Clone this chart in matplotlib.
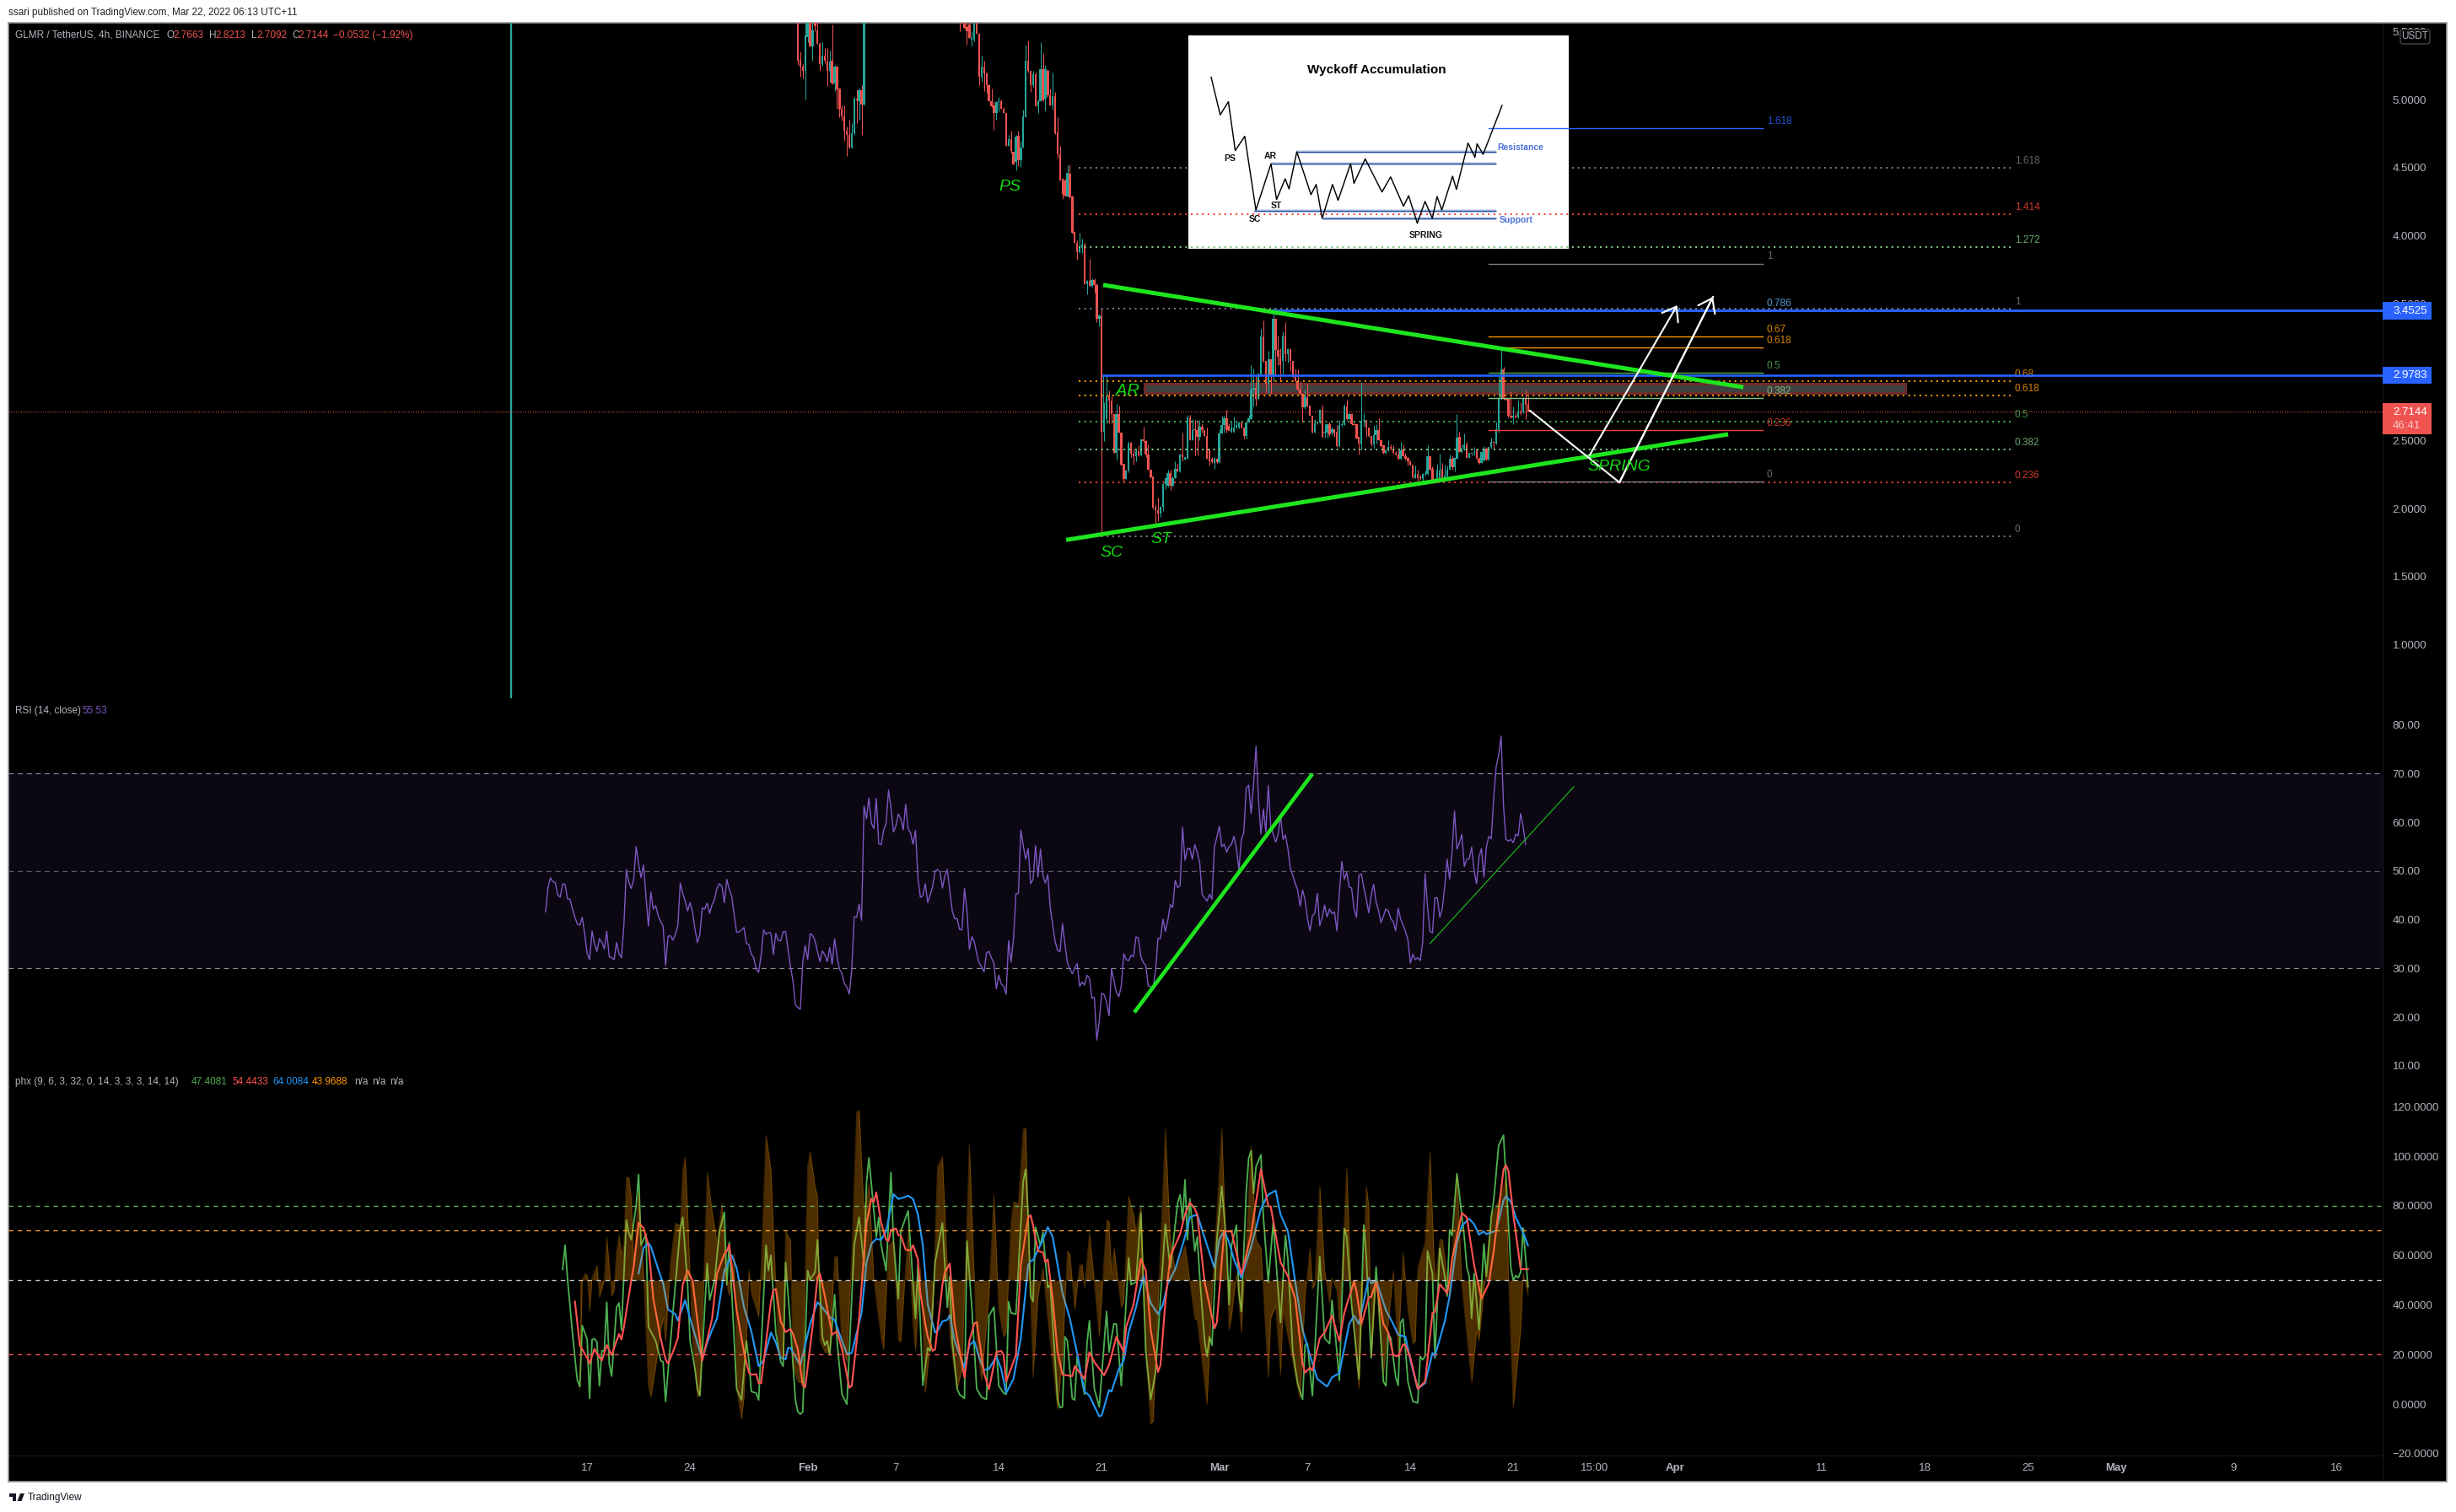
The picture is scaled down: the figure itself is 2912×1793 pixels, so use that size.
"""GLMR/USDT 4h TradingView snapshot: candles + fib levels, RSI and phx panes."""

import matplotlib

matplotlib.use("Agg")
import matplotlib.pyplot as plt
import numpy as np
from matplotlib.patches import FancyBboxPatch, Polygon, Rectangle

W, H = 2912, 1793
plt.rcParams["font.family"] = ["Liberation Sans", "DejaVu Sans"]

BG = "#000000"
UP = "#26a69a"
DOWN = "#ef5350"
LABEL = "#b2b5be"
LIME = "#1ee61e"
BLUE = "#2962ff"
ORANGE = "#ff9800"
GREY = "#787b86"
FIB_RED = "#f44336"
FIB_GREEN = "#4caf50"
FIB_LIGHT = "#81c784"
AXIS_SIZE = 9.5
TEXT_SIZE = 8.5

# candles still on screen before the gap above the pane (oldest first)
open_a = [5.8, 5.29, 5.24, 5.21, 5.46, 5.7, 5.39, 5.58, 5.505, 5.41, 5.26, 5.32, 5.28, 5.21, 5.285, 5.116, 5.24, 5.08, 4.93, 4.877, 4.774, 4.739, 4.646, 4.753, 5.007, 4.985, 5.069, 4.96]
high_a = [5.9, 5.35, 5.26, 5.75, 5.85, 5.8, 5.7, 5.7, 5.6, 5.42, 5.42, 5.38, 5.38, 5.36, 5.55, 5.254, 5.24, 5.08, 4.955, 4.955, 4.8, 4.85, 4.83, 5.017, 5.075, 5.085, 5.105, 6.1]
low_a = [5.254, 5.17, 5.155, 5.0, 5.42, 5.39, 5.285, 5.5, 5.41, 5.21, 5.25, 5.264, 5.1, 5.13, 5.11, 5.06, 4.935, 4.87, 4.846, 4.7, 4.585, 4.64, 4.64, 4.74, 4.83, 4.85, 4.74, 4.955]
close_a = [5.285, 5.24, 5.21, 5.47, 5.7, 5.39, 5.51, 5.54, 5.41, 5.26, 5.32, 5.285, 5.21, 5.28, 5.116, 5.24, 5.075, 4.935, 4.877, 4.774, 4.739, 4.646, 4.753, 5.007, 4.992, 5.069, 4.96, 6.0]

# main run of candles, ending on the live bar
open_b = [
    5.8, 5.8, 5.68, 5.53, 5.55, 5.44, 5.44, 5.62, 5.48, 5.17, 5.244, 5.19, 5.106, 4.986, 4.955, 4.904, 4.98, 4.99, 4.935, 4.9,
    4.657, 4.708, 4.615, 4.543, 4.733, 4.553, 4.646, 4.873, 5.285, 5.209, 5.106, 5.186, 4.95, 4.986, 5.223, 5.007, 5.209, 5.03, 4.959, 5.023,
    4.76, 4.6, 4.42, 4.409, 4.292, 4.457, 4.286, 4.028, 3.95, 3.878, 3.911, 3.936, 3.647, 3.672, 3.633, 3.678, 3.637,
    3.394, 3.41, 2.566, 2.659, 2.823, 2.79, 2.694, 2.411, 2.694, 2.556, 2.329, 2.216, 2.278, 2.483, 2.401, 2.387, 2.422, 2.391, 2.508, 2.494, 2.395, 2.284, 2.236,
    2.004, 1.989, 1.964, 2.01, 2.181, 2.168, 2.263, 2.168, 2.226, 2.292, 2.271, 2.395, 2.36, 2.364, 2.669, 2.504, 2.58, 2.576, 2.525, 2.601,
    2.576, 2.531, 2.436, 2.366, 2.335, 2.366, 2.339, 2.551, 2.611, 2.663, 2.607, 2.566, 2.566, 2.597, 2.597, 2.634, 2.597, 2.535, 2.634, 2.659,
    2.875, 2.885, 2.803, 2.984, 3.26, 3.081, 2.916, 3.095, 2.972, 3.39, 3.163, 3.116, 3.081, 3.26, 3.132, 3.17, 3.081, 2.964, 2.937, 2.875,
    2.844, 2.741, 2.813, 2.757, 2.683, 2.56, 2.628, 2.634, 2.725, 2.556, 2.556, 2.617,
    2.556, 2.58, 2.562, 2.459, 2.613, 2.613, 2.747, 2.659, 2.694, 2.622, 2.622, 2.525, 2.473, 2.644, 2.648, 2.593, 2.531, 2.473, 2.539, 2.576, 2.504, 2.463,
    2.411, 2.426, 2.453, 2.442, 2.411, 2.397, 2.366, 2.432, 2.387, 2.374, 2.35, 2.323, 2.226, 2.253, 2.236, 2.216, 2.25, 2.253, 2.385, 2.292, 2.216,
    2.205, 2.216, 2.292, 2.226, 2.236, 2.288, 2.364, 2.304, 2.366, 2.525, 2.418, 2.432, 2.469, 2.374, 2.401, 2.407, 2.436, 2.366, 2.335, 2.354,
    2.44, 2.36, 2.449, 2.49, 2.479, 2.576, 2.807, 3.019, 2.807, 2.803, 2.679, 2.669, 2.683, 2.669, 2.71, 2.704, 2.813, 2.7663,
]
high_b = [
    5.9, 5.85, 5.7, 5.7, 5.6, 5.5, 5.7, 5.7, 5.49, 5.32, 5.285, 5.196, 5.11, 5.08, 4.986, 4.986, 5.017, 5.0, 4.945, 4.904,
    4.739, 4.77, 4.615, 4.739, 4.77, 4.698, 4.925, 5.40, 5.433, 5.209, 5.213, 5.196, 5.0, 5.419, 5.34, 5.254, 5.223, 5.079, 5.196, 5.058,
    4.869, 4.663, 4.424, 4.42, 4.519, 4.527, 4.296, 4.038, 3.966, 4.022, 3.977, 3.946, 3.678, 3.833, 3.688, 3.688, 3.65,
    3.42, 3.466, 2.782, 2.978, 2.865, 2.823, 2.694, 2.766, 2.757, 2.556, 2.329, 2.288, 2.498, 2.49, 2.432, 2.442, 2.463, 2.508, 2.601, 2.504, 2.473, 2.288, 2.236,
    2.03, 2.082, 2.02, 2.185, 2.226, 2.284, 2.288, 2.236, 2.35, 2.329, 2.401, 2.556, 2.38, 2.69, 2.69, 2.659, 2.648, 2.648, 2.648, 2.628,
    2.576, 2.597, 2.436, 2.38, 2.38, 2.37, 2.58, 2.679, 2.683, 2.725, 2.628, 2.638, 2.673, 2.638, 2.638, 2.638, 2.597, 2.638, 2.69, 3.05,
    3.029, 2.978, 2.992, 3.318, 3.38, 3.081, 3.157, 3.095, 3.472, 3.39, 3.266, 3.174, 3.297, 3.369, 3.174, 3.17, 3.081, 3.029, 3.019, 2.937,
    2.844, 2.875, 2.916, 2.757, 2.683, 2.659, 2.638, 2.725, 2.762, 2.617, 2.628, 2.638,
    2.601, 2.585, 2.613, 2.648, 2.63, 2.766, 2.799, 2.706, 2.70, 2.638, 2.622, 2.525, 2.93, 2.70, 2.648, 2.593, 2.531, 2.613, 2.617, 2.663, 2.504, 2.463,
    2.426, 2.504, 2.473, 2.463, 2.42, 2.43, 2.49, 2.469, 2.41, 2.38, 2.355, 2.323, 2.319, 2.288, 2.25, 2.26, 2.28, 2.467, 2.385, 2.308, 2.226,
    2.329, 2.401, 2.333, 2.323, 2.313, 2.395, 2.391, 2.37, 2.694, 2.562, 2.473, 2.551, 2.49, 2.38, 2.41, 2.453, 2.44, 2.38, 2.415, 2.459,
    2.45, 2.453, 2.519, 2.495, 2.638, 2.972, 3.188, 3.04, 2.82, 2.81, 2.86, 2.747, 2.70, 2.797, 2.782, 2.819, 2.871, 2.8213,
]
low_b = [
    5.5, 5.6, 5.52, 5.40, 5.45, 5.39, 5.43, 5.48, 5.106, 5.13, 5.06, 5.05, 4.99, 4.945, 4.78, 4.85, 4.914, 4.935, 4.9, 4.657,
    4.657, 4.605, 4.527, 4.48, 4.51, 4.508, 4.646, 4.873, 5.2, 5.058, 5.09, 4.95, 4.9, 4.986, 4.986, 4.918, 5.017, 4.959, 4.924, 4.749,
    4.574, 4.409, 4.27, 4.286, 4.286, 4.276, 4.018, 3.946, 3.828, 3.874, 3.874, 3.643, 3.569, 3.627, 3.627, 3.585, 3.37,
    3.338, 1.80, 2.494, 2.628, 2.628, 2.628, 2.411, 2.36, 2.556, 2.319, 2.195, 2.216, 2.267, 2.38, 2.323, 2.35, 2.387, 2.391, 2.49, 2.38, 2.284, 2.226, 2.0,
    1.876, 1.907, 1.938, 1.979, 2.144, 2.16, 2.139, 2.164, 2.226, 2.271, 2.267, 2.35, 2.36, 2.364, 2.5, 2.504, 2.391, 2.391, 2.504, 2.56,
    2.53, 2.366, 2.319, 2.335, 2.294, 2.33, 2.335, 2.551, 2.556, 2.556, 2.572, 2.56, 2.56, 2.59, 2.59, 2.59, 2.514, 2.514, 2.63, 2.655,
    2.751, 2.755, 2.8, 2.98, 3.07, 2.854, 2.844, 2.844, 2.937, 2.978, 3.05, 2.937, 2.978, 3.081, 3.071, 3.009, 2.957, 2.926, 2.865, 2.834,
    2.638, 2.73, 2.751, 2.679, 2.556, 2.556, 2.62, 2.625, 2.519, 2.521, 2.521, 2.53,
    2.54, 2.525, 2.453, 2.453, 2.60, 2.61, 2.65, 2.655, 2.615, 2.61, 2.514, 2.397, 2.432, 2.60, 2.525, 2.525, 2.46, 2.438, 2.477, 2.504, 2.45, 2.405,
    2.405, 2.42, 2.43, 2.40, 2.39, 2.36, 2.36, 2.387, 2.36, 2.319, 2.319, 2.226, 2.222, 2.195, 2.21, 2.201, 2.24, 2.25, 2.288, 2.189, 2.185,
    2.2, 2.21, 2.22, 2.21, 2.23, 2.285, 2.284, 2.27, 2.366, 2.418, 2.41, 2.428, 2.374, 2.37, 2.39, 2.39, 2.366, 2.33, 2.332, 2.35,
    2.355, 2.355, 2.44, 2.44, 2.47, 2.556, 2.80, 2.799, 2.79, 2.669, 2.66, 2.622, 2.66, 2.665, 2.69, 2.70, 2.659, 2.7092,
]
close_b = [
    5.7, 5.68, 5.526, 5.50, 5.45, 5.45, 5.62, 5.48, 5.17, 5.244, 5.19, 5.106, 4.986, 4.95, 4.904, 4.98, 4.99, 4.935, 4.9, 4.657,
    4.708, 4.62, 4.527, 4.729, 4.553, 4.646, 4.877, 5.285, 5.209, 5.106, 5.186, 4.95, 4.986, 5.223, 4.996, 5.223, 5.03, 4.959, 5.023, 4.755,
    4.6, 4.409, 4.31, 4.296, 4.461, 4.282, 4.024, 3.95, 3.878, 3.915, 3.936, 3.647, 3.672, 3.633, 3.678, 3.637, 3.39,
    3.415, 2.566, 2.659, 2.823, 2.79, 2.694, 2.411, 2.694, 2.556, 2.323, 2.216, 2.278, 2.477, 2.401, 2.387, 2.422, 2.391, 2.508, 2.494, 2.395, 2.284, 2.23, 2.004,
    1.989, 1.964, 2.01, 2.181, 2.226, 2.263, 2.168, 2.226, 2.292, 2.271, 2.395, 2.38, 2.38, 2.669, 2.504, 2.576, 2.575, 2.525, 2.601, 2.576,
    2.531, 2.366, 2.35, 2.339, 2.364, 2.339, 2.551, 2.611, 2.663, 2.576, 2.572, 2.593, 2.597, 2.613, 2.634, 2.597, 2.535, 2.634, 2.663, 2.875,
    2.885, 2.803, 2.988, 3.26, 3.081, 2.916, 3.095, 2.972, 3.39, 3.163, 3.116, 3.054, 3.266, 3.132, 3.17, 3.081, 2.964, 2.937, 2.875, 2.844,
    2.741, 2.823, 2.757, 2.683, 2.56, 2.628, 2.638, 2.725, 2.525, 2.562, 2.617, 2.545,
    2.58, 2.551, 2.459, 2.613, 2.62, 2.747, 2.659, 2.694, 2.622, 2.613, 2.514, 2.479, 2.644, 2.65, 2.593, 2.531, 2.473, 2.539, 2.576, 2.504, 2.459, 2.411,
    2.426, 2.453, 2.442, 2.407, 2.397, 2.366, 2.428, 2.387, 2.366, 2.35, 2.323, 2.23, 2.253, 2.226, 2.222, 2.253, 2.255, 2.385, 2.288, 2.205, 2.195,
    2.284, 2.278, 2.226, 2.243, 2.288, 2.364, 2.304, 2.37, 2.521, 2.418, 2.432, 2.469, 2.374, 2.407, 2.411, 2.415, 2.366, 2.335, 2.415, 2.44,
    2.36, 2.453, 2.49, 2.48, 2.58, 2.807, 3.019, 2.807, 2.80, 2.679, 2.669, 2.683, 2.669, 2.71, 2.70, 2.813, 2.762, 2.7144,
]

# RSI(14), one value per bar from bar 0
rsi = [
    41.6, 46.5, 48.6, 47.8, 47.6, 45.1, 44.6, 47.4, 47.2, 44.3, 44.2, 42.2, 40.5, 39.1, 38.9, 40.5, 37, 33.1, 31.8, 37.7,
    35, 33.5, 36.1, 35.4, 34, 37.6, 32.4, 32.2, 31.8, 35.3, 33, 32.2, 39, 50.3, 47.7, 46.4, 48.3, 55, 51.4, 48.6,
    51.2, 44.8, 38.7, 45.7, 42.2, 42.9, 40.8, 39.6, 38.7, 30.6, 36.6, 36.7, 35.8, 37, 38.7, 47.5, 45.4, 43.9, 41.8, 43.5,
    41.6, 38.1, 35.3, 37, 42.4, 42.2, 43.4, 41.3, 43.1, 44.2, 46.5, 47.4, 46.8, 43.5, 48.3, 46.2, 44.8, 41, 37.4, 37.5,
    37.9, 38.4, 35.1, 34.9, 32.9, 32.2, 29.8, 29.2, 32.7, 37.9, 37, 37.4, 37.2, 32.9, 37.2, 35.7, 35.7, 37.5, 37.6, 33.8,
    30.3, 27.5, 22.5, 22, 21.6, 31.2, 34.7, 31.8, 37.1, 36.8, 35.7, 33.5, 31.4, 33.6, 32.8, 31.4, 34.3, 30.9, 36.1, 32.4,
    29.8, 28.9, 26.9, 26.2, 24.7, 29.8, 40.6, 40.5, 43.2, 39.9, 63.3, 60.7, 65, 59.8, 58.7, 64.9, 55.6, 55.4, 58.4, 59.7,
    66.6, 63, 58, 59.2, 61.7, 60.7, 58.4, 63.7, 58.7, 57.8, 55.5, 58.3, 48.6, 44.6, 44.9, 47.4, 43.5, 45.1, 46.8, 50,
    50.3, 49.8, 46.5, 49, 50.3, 46, 41.8, 40.2, 40.2, 38, 37.9, 46.4, 41.9, 33.9, 36.5, 35.5, 33, 31.1, 30.3, 29.3,
    33.2, 33.5, 32.2, 31.1, 25.8, 28.6, 26.8, 26.3, 24.7, 35.7, 31.3, 36.1, 45.3, 45.4, 58.4, 55.2, 52.4, 54.6, 47.4, 48.3,
    55.2, 48.8, 54.5, 49.1, 47.5, 49.3, 42.5, 39, 35.5, 33.7, 33.4, 39.2, 35, 31.2, 29.9, 28.9, 30.1, 31, 26.3, 27.2,
    26.6, 28.6, 28, 23.9, 24.1, 15.3, 19.1, 24.9, 24.6, 23.1, 20.3, 29.9, 27.5, 25.1, 24.2, 26.4, 33, 31.8, 31.6, 32.7,
    32.4, 36.5, 36.2, 32.4, 31.2, 30.6, 26.4, 26.3, 25.8, 29.8, 36.2, 36.1, 40.1, 37.6, 39.9, 43.1, 42.5, 48.1, 46.6, 47,
    59, 52.2, 54.6, 54.6, 52.4, 55.4, 53.8, 51.7, 45.1, 44.5, 43.8, 45.2, 44.2, 54.9, 56.9, 59.2, 55, 55.5, 53.9, 55,
    55.5, 57.1, 54.6, 50.3, 56.4, 57.9, 67, 67.6, 61.8, 67.9, 75.6, 64.5, 57.6, 62.7, 58, 67.5, 59.2, 57.6, 55.9, 57.5,
    61.3, 56.5, 57.4, 54.6, 50.5, 49.1, 47.4, 46.1, 42.8, 46.1, 44.1, 40.2, 37.7, 40.8, 41.3, 45.4, 38.8, 40.5, 43, 40.6,
    42.2, 41.2, 41.6, 37.7, 45.4, 52, 48.3, 49.7, 46.7, 46.5, 42.2, 40.5, 49.1, 49.4, 46.5, 44.2, 41.4, 45.1, 47.3, 43.6,
    41.9, 39.4, 40.8, 42.2, 41.8, 40.2, 39.6, 37.7, 42.4, 40.2, 38.9, 37.6, 35.8, 31.1, 32.9, 31.8, 32.2, 31.6, 35.3, 49.5,
    42.5, 37.6, 37.3, 44.5, 44.5, 40.5, 42.2, 46.8, 52.4, 48.3, 54, 62.3, 54.5, 55.8, 57.5, 50.9, 52.4, 52.5, 54.9, 50,
    47.4, 52.9, 54.6, 48.7, 54.9, 57.1, 56.6, 65, 71.4, 73.7, 77.7, 63.3, 56.5, 56.1, 56.5, 55.8, 57.6, 57.2, 61.8, 59.2, 55.5,
]

# phx oscillator: turning points of each plot, (bar, value) in two lists each
fast_bar = [7, 8, 9, 11, 12, 13, 14, 15, 17, 18, 19, 20, 21, 22, 23, 24, 25, 26, 27, 29, 30, 31, 33, 34, 35, 37, 38, 39, 41, 42, 45, 47, 48, 49, 52, 55, 56, 58, 59, 61, 62, 63, 64, 66, 67, 69, 71, 73, 74, 75, 78, 80, 82, 83, 84, 86, 87, 90, 91, 92, 94, 96, 97, 98, 100, 102, 103, 104, 105, 107, 108, 110, 111, 113, 114, 115, 116, 118, 119, 121, 123, 126, 128, 130, 131, 132, 135, 136, 137, 139, 141, 142, 144, 145, 148, 151, 152, 154, 156, 157, 159, 162, 164, 165, 166, 168, 169, 171, 172, 174, 176, 178, 180, 181, 183, 185, 187, 188, 189, 190, 192, 195, 196, 197,
            198, 199, 200, 202, 203, 205, 206, 209, 210, 211, 212, 213, 215, 216, 217, 220, 221, 222, 224, 226, 229, 230, 232, 233, 235, 238, 239, 241, 243, 245, 247, 249, 253, 255, 256, 258, 259, 260, 261, 262, 263, 265, 266, 267, 269, 270, 271, 272, 274, 276, 278, 279, 280, 282, 283, 284, 286, 287, 288, 289, 290, 292, 293, 295, 297, 300, 302, 303, 305, 307, 309, 310, 311, 313, 316, 318, 320, 321, 323, 324, 326, 327, 329, 332, 334, 335, 337, 339, 340, 342, 343, 344, 345, 347, 348, 349, 350, 352, 354, 356, 357, 358, 359, 360, 362, 363, 365, 367, 368, 369, 370, 372, 375, 376, 377, 378, 379, 381, 383, 384, 386, 387, 389, 391, 392, 394, 395, 396, 397, 398, 399, 401]
fast_val = [54.4, 64.1, 50.4, 28.9, 18.7, 9.6, 7.1, 31.7, 26.1, 2.3, 26.1, 26.4, 25, 7.4, 21.5, 21.5, 41.1, 16.4, 11.3, 39.1, 40.8, 30, 74.3, 69.2, 66.3, 79.9, 92.6, 64.1, 68.6, 31.2, 25.5, 17.6, 17, 1.1, 36.8, 70.9, 75.4, 48.2, 25.5, 14.2, 6.2, 3.4, 21, 56.7, 42, 49.9, 69.7, 77.4, 48.2, 65.2, 6.2, 1.7, 25.5, 17.6, 5.1, 4.5, 1.7, 64.1, 53.9, 60.1, 28.9, 17, 15.3, 57.2, 31.2, 1.7, -3.1, -4, -3.1, 53.9, 50.2, 53.3, 66.3, 27.2, 23.8, 25.5, 19.8, 44.2, 25.5, 4, 0, 64.1, 75.4, 56.1, 89, 99.4, 67.4, 75.4, 64.1, 53.9, 93.5, 66.3, 42.5, 69.7, 78, 34.6, 56.1, 7.6, 22.7, 21.5, 57.2, 73.1, 39.1, 51.6, 25.5, 6.2, 3.9, 2.3, 65.8, 39.1, 6.2, 2.8, 1.9, 35.7, 39.1, 7.4, 4.5, 4, 41.4, 36.8, 36.3, 90.1, 94.7, 75.4,
            43.6, 41.4, 71.4, 64.1, 69.2, 47, 48.2, 1.7, -1.4, -1.1, 27.2, 25.5, 2.3, 1.7, 19.3, 4, 24.4, 33.7, 6.2, -1.1, 37.4, 21, 32.5, 32.3, 7.4, 59, 48.2, 49.3, 77.1, 21, 1.9, 13, 72.6, 55, 63.5, 81.1, 84.5, 74.2, 90.5, 66.3, 82.8, 61.8, 67.5, 51.6, 25.5, 19.3, 27.2, 23.8, 66.3, 87.9, 64.1, 40.2, 64.1, 72.2, 44.8, 37.4, 85.6, 99.2, 102.3, 85, 95.8, 100.6, 75.4, 49.3, 73.1, 32.9, 68, 58.4, 21, 8.5, 1.9, 23.8, 24.4, 3.4, 59.5, 26.6, 24.4, 41.9, 21, 9.6, 70.9, 67.5, 40.2, 10.2, 72.2, 59.5, 18.7, 55.3, 41.4, 9.1, 7.4, 28.4, 26.6, 10.8, 7.6, 32.9, 34.4, 9.1, 1.1, 0.5, 19.3, 17.9, 19.3, 61.8, 52.7, 18.7, 62.9, 51.6, 43.6, 70.3, 68, 93, 67.4, 55.5, 51.6, 34.6, 52.7, 30, 64.6, 51.6, 75.4, 82.2, 104.3, 108.5, 91.3, 55, 49.9, 51.9, 51, 53.3, 71.1, 47.41]
mid_bar = [12, 14, 16, 17, 18, 20, 21, 23, 25, 27, 30, 31, 32, 35, 36, 38, 40, 42, 44, 47, 49, 50, 52, 54, 56, 58, 60, 63, 64, 68, 70, 73, 74, 75, 78, 81, 83, 84, 86, 87, 88, 92, 93, 94, 96, 98, 100, 101, 103, 105, 106, 109, 111, 112, 114, 117, 119, 121, 123, 124, 125, 128, 131, 133, 134, 135, 137, 139, 140, 141, 143, 144, 145, 147, 149, 150, 152, 153, 155, 156, 158, 159, 162, 163, 165, 167, 171, 173, 175, 176, 179, 181, 184, 186, 187, 188, 192, 194, 197,
           198, 199, 201, 203, 204, 205, 207, 209, 211, 215, 216, 220, 222, 224, 228, 230, 233, 236, 237, 240, 243, 245, 247, 250, 251, 253, 255, 257, 259, 261, 263, 265, 266, 269, 273, 274, 277, 280, 284, 288, 292, 295, 296, 300, 303, 306, 309, 310, 312, 313, 316, 318, 321, 324, 326, 330, 331, 333, 336, 337, 339, 342, 344, 346, 348, 350, 351, 353, 356, 359, 362, 363, 365, 368, 369, 370, 374, 376, 379, 382, 385, 387, 391, 392, 393, 395, 398, 401]
mid_val = [41.4, 23.8, 20.4, 18.7, 16.4, 22.3, 20.4, 17.6, 23.8, 19.8, 28.3, 26.1, 31.2, 49.9, 55.5, 73.1, 71.1, 64.1, 42.5, 26.6, 18.1, 16.4, 21, 26.6, 48.2, 53.9, 49.9, 25.5, 17.6, 34.6, 52.7, 60.6, 61.8, 64.3, 38, 21, 12.8, 11.9, 12.1, 8.5, 8.5, 41.4, 45.9, 46.5, 33.4, 29.1, 30.3, 28.3, 22.1, 7.6, 6.8, 31.2, 51, 52.7, 43.6, 28, 29.5, 22.1, 11.9, 6.6, 7.4, 34.6, 73.1, 82.8, 81.6, 85.4, 73.1, 66.3, 65.8, 70.3, 70.9, 68.2, 68, 62.3, 62, 64.1, 58.4, 44.8, 32.3, 27.2, 21.5, 22.1, 48.2, 53.3, 56.7, 32.3, 10.8, 25.5, 32.5, 33.1, 12.5, 6, 21, 21.5, 19.8, 9.1, 19.8, 56.1, 75.4,
           76.2, 72, 61.8, 61.2, 57.3, 58.4, 42.5, 21, 11.9, 11.3, 15.3, 10.2, 21, 17, 11.7, 15.9, 27.2, 21, 31.2, 40.2, 58.6, 53.9, 30, 13, 15.9, 41.4, 59.5, 64.1, 68.6, 76.5, 81.3, 78.8, 76.5, 49.3, 30.6, 32.9, 69.7, 69.7, 52.2, 68.6, 94.7, 79.9, 79.7, 57.2, 51.6, 42.5, 16.4, 12.7, 14.7, 13.6, 26.6, 28.9, 35.7, 25.5, 36.8, 49.5, 45.4, 32.3, 43.1, 43.3, 49.3, 32.3, 28.9, 19.8, 19.3, 24.1, 23.8, 18.7, 6.2, 9.1, 36.8, 37.2, 48.4, 44.8, 50.4, 58.4, 77.1, 75.4, 56.1, 42.5, 48.7, 61.8, 94.7, 96.4, 94.1, 76.5, 54.44, 54.44]
slow_bar = [38, 40, 42, 43, 46, 48, 50, 53, 54, 57, 59, 64, 66, 68, 70, 73, 76, 78, 81, 84, 87, 89, 92, 94, 96, 98, 99, 100, 104, 108, 111, 112, 116, 118, 121, 123, 125, 129, 131, 133, 135, 137, 139, 142, 144, 146, 148, 150, 152, 154, 156, 159, 160, 162, 164, 165, 167, 171, 173, 175, 177, 179, 181, 184, 186, 188, 191, 194, 197,
            198, 199, 203, 205, 207, 211, 214, 217, 220, 222, 226, 227, 230, 231, 234, 236, 238, 241, 244, 247, 250, 252, 254, 257, 261, 263, 266, 270, 273, 275, 277, 279, 281, 284, 288, 292, 294, 295, 298, 300, 303, 306, 309, 312, 315, 319, 321, 324, 328, 330, 332, 336, 337, 339, 343, 346, 348, 351, 353, 356, 359, 362, 363, 367, 369, 372, 374, 377, 379, 381, 383, 384, 388, 391, 392, 394, 396, 399, 401]
slow_val = [52.7, 63, 65, 63.5, 54.4, 48.7, 38.2, 36.3, 33.7, 41.9, 34.6, 18.1, 24.9, 30, 34.6, 53.9, 60.1, 55, 39.1, 29.5, 15.3, 17.6, 28.9, 24.9, 18.7, 18.1, 22.7, 22.7, 15.6, 32.3, 41.1, 40.2, 35.1, 34, 25.5, 20.4, 20.6, 36.8, 57.2, 64.6, 66.7, 66.3, 69.7, 84.7, 82.8, 83.3, 84.1, 82.8, 76.5, 64.1, 40.2, 28.9, 29.5, 33.4, 34, 35.9, 25.5, 14.7, 23.8, 25.5, 18.7, 13.8, 14.2, 19.3, 14.2, 4.5, 10.2, 26.6, 56.1,
            57.8, 58.1, 66.3, 71.4, 67.5, 44.8, 34.6, 20.4, 5.1, 3.4, -4.9, -4.5, 5.7, 5.1, 14.2, 17.6, 28.9, 39.1, 51.8, 40.8, 36.3, 40.2, 48.7, 54.4, 67.5, 75.4, 76.5, 64.1, 55, 66.3, 70, 65.2, 58.4, 51, 63.5, 78.8, 82.8, 84.5, 86.2, 76.5, 69.7, 49.3, 30, 19.8, 10.2, 7.1, 10.8, 12.5, 32.3, 35.7, 32.3, 51, 48.7, 49.9, 38, 32.3, 28, 27.2, 17.6, 6.2, 8.5, 20.7, 19.3, 33.4, 43.6, 65.2, 72, 74.8, 72.6, 68.4, 69.7, 68.6, 70, 82.2, 83.9, 81.6, 75.4, 69.2, 64.01]
area_bar = [14, 15, 16, 17, 18, 19, 21, 22, 24, 25, 27, 28, 29, 30, 31, 32, 33, 34, 35, 36, 37, 38, 40, 42, 43, 45, 47, 48, 49, 51, 53, 55, 56, 57, 58, 60, 62, 63, 65, 66, 68, 70, 72, 74, 75, 77, 78, 80, 81, 82, 83, 84, 87, 88, 90, 92, 94, 95, 97, 98, 100, 101, 103, 105, 107, 108, 110, 111, 112, 114, 116, 118, 119, 121, 123, 125, 127, 128, 130, 132, 134, 137, 138, 140, 142, 144, 145, 148, 150, 151, 153, 155, 158, 160, 162, 164, 165, 168, 170, 173, 174, 176, 178, 181, 183, 185, 187, 188, 190, 191, 193, 195, 196, 197,
            199, 201, 203, 205, 209, 211, 213, 214, 216, 218, 219, 220, 222, 224, 226, 229, 230, 231, 232, 235, 236, 238, 240, 241, 243, 245, 247, 248, 250, 253, 255, 257, 261, 265, 266, 270, 272, 276, 279, 280, 282, 284, 288, 290, 292, 295, 296, 298, 300, 301, 307, 308, 310, 312, 313, 314, 316, 318, 320, 321, 323, 324, 327, 329, 332, 335, 336, 337, 339, 342, 346, 348, 350, 352, 354, 355, 356, 359, 361, 363, 365, 366, 369, 372, 374, 378, 380, 381, 386, 389, 392, 393, 395, 398, 399, 401]
area_val = [5.7, 50, 52.7, 52.1, 37.4, 51, 56.1, 43.1, 50, 67.5, 43.6, 45.9, 61.8, 68.2, 60.6, 65.2, 91.5, 91.5, 83.3, 57.2, 72, 85.6, 52.7, 7.4, 2.8, 15.3, 30, 34.6, 25, 57.2, 73.1, 72, 94.7, 99.8, 77.7, 25.5, 2.8, 4, 61.8, 93.5, 77.7, 65.2, 81.1, 48.2, 43.6, 60.6, 6.2, -6, 2.8, 25.5, 54.4, 44.8, 35.1, 55, 108.5, 94.7, 47, 21, 17.6, 69.7, 66.3, 15.3, 9, 8.5, 95.8, 102, 87.9, 83.9, 25.5, 21, 21, 59.3, 59.9, 23.2, 17, 60.6, 117.9, 118.5, 77.7, 89, 50.4, 26.6, 21.9, 64.1, 66.3, 26.1, 25, 70.9, 32.3, 21.5, 55, 4.5, 34.6, 95.8, 99.8, 55, 26.6, 6.2, 14.2, 104.9, 77.7, 23.2, 9.6, 43.6, 84.7, 38, 27.2, 28.9, 73.1, 81.6, 81.1, 111.1, 111.3, 75.4,
            10.8, 43.6, 55, 34.6, -2.3, 19.8, 61.8, 60.6, 38, 56.1, 56.3, 47, 69.2, 49.3, 27.2, 74.3, 73.7, 52.7, 63.1, 39.1, 41.4, 83.9, 76.5, 69.7, 80.5, 21, -8, -6.8, 39.1, 111.1, 66.3, 53.8, 64.1, 34.6, 34, 0, 43.6, 111.1, 30, 35.7, 52.7, 28.9, 104, 66.3, 63, 10.8, 34.6, 39.7, 11.9, 38, 6.2, 2.3, 43.6, 63.1, 46.5, 48.2, 88.1, 53.8, 40.8, 51, 45.9, 32.3, 95.2, 40.2, 6.2, 87.9, 79.9, 18.7, 50.4, 11.9, 53.8, 21, 61.2, 38, 24.4, 25.5, 55, 65.2, 102, 49.3, 66.5, 66.5, 43.6, 93, 48.2, 8.7, 29.5, 25.5, 76.5, 82.2, 91.3, 52.7, -1.5, 30, 52.7, 43.97]

# auto fib levels: (ratio label, price, colour)
outer_levels = [("1.618", 4.5, GREY), ("1.414", 4.161, FIB_RED), ("1.272", 3.918, FIB_LIGHT), ("1", 3.466, GREY),
                ("0.68", 2.936, ORANGE), ("0.618", 2.83, ORANGE), ("0.5", 2.635, FIB_GREEN), ("0.382", 2.436, FIB_LIGHT),
                ("0.236", 2.193, FIB_RED), ("0", 1.798, GREY)]
inner_levels = [("1.618", 4.788, BLUE), ("1", 3.797, GREY), ("0.786", 3.453, "#64b5f6"), ("0.67", 3.264, ORANGE),
                ("0.618", 3.184, ORANGE), ("0.5", 2.994, FIB_GREEN), ("0.382", 2.81, FIB_LIGHT),
                ("0.236", 2.575, FIB_RED), ("0", 2.196, GREY)]

price_ticks = [5.5, 5.0, 4.5, 4.0, 3.5, 2.5, 2.0, 1.5, 1.0]
rsi_ticks = [10, 20, 30, 40, 50, 60, 70, 80]
phx_ticks = [-20, 0, 20, 40, 60, 80, 100, 120]
time_days = [16, 23, 31, 37, 44, 51, 59, 65, 72, 79, 84.5, 90, 100, 107, 114, 120, 128, 135]
time_labels = ["17", "24", "Feb", "7", "14", "21", "Mar", "7", "14", "21", "15:00", "Apr", "11", "18", "25", "May", "9", "16"]
month_labels = {"Feb", "Mar", "Apr", "May"}

# wyckoff schematic in the inset, in its own unitless coordinates
wyck_x = [561, 582, 601, 617, 639, 665, 700, 713, 733, 742, 760, 793, 805, 819, 843, 856, 885, 893, 919, 958, 978, 1008, 1020, 1040, 1058, 1075, 1086, 1097, 1122, 1131, 1158, 1174, 1179, 1193, 1237]
wyck_y = [205, 305, 270, 400, 362, 558, 435, 530, 475, 502, 403, 517, 490, 580, 490, 532, 435, 487, 422, 510, 470, 548, 520, 593, 535, 580, 522, 558, 468, 503, 380, 418, 382, 410, 280]

PRICE_BOTTOM, PRICE_TOP = 0.609, 5.563
RSI_BOTTOM, RSI_TOP = 9.3, 85.8
PHX_BOTTOM, PHX_TOP = -20.7, 134.4
BAR_LEFT, BAR_RIGHT = -219.2, 749.8
FIRST_BAR_DAY = 13.17
LEFT, RIGHT = 10, 2825


def pane(top, bottom, ylim):
    ax = fig.add_axes([LEFT / W, 1 - bottom / H, (RIGHT - LEFT) / W, (bottom - top) / H])
    ax.set_facecolor("none")
    ax.set_xlim(BAR_LEFT, BAR_RIGHT)
    ax.set_ylim(*ylim)
    ax.yaxis.tick_right()
    ax.tick_params(axis="y", length=0, pad=8.5, labelsize=AXIS_SIZE, labelcolor=LABEL)
    ax.tick_params(axis="x", length=0, labelbottom=False)
    for spine in ax.spines.values():
        spine.set_visible(False)
    return ax


def ftext(x, y, s, **kw):
    """Text placed in picture pixels, used for pane legends and pattern labels."""
    kw.setdefault("va", "center")
    return fig.text(x / W, 1 - y / H, s, **kw)


def draw_candles(ax, start, opens, highs, lows, closes):
    bars = start + np.arange(len(opens))
    opens, highs, lows, closes = map(np.array, (opens, highs, lows, closes))
    colors = np.where(closes >= opens, UP, DOWN)
    ax.vlines(bars, lows, highs, colors=colors, linewidth=0.75, zorder=3)
    ax.bar(bars, np.abs(closes - opens), bottom=np.minimum(opens, closes), width=0.82,
           color=colors, linewidth=0, zorder=4)


fig = plt.figure(figsize=(W / 100, H / 100), dpi=100, facecolor="white")

# black chart area with the thin grey frame
back = fig.add_axes([LEFT / W, 1 - 1757 / H, (2901 - LEFT) / W, (1757 - 27) / H])
back.set_facecolor(BG)
back.set_xticks([])
back.set_yticks([])
for spine in back.spines.values():
    spine.set_color("#9a9a9e")
    spine.set_linewidth(1.2)
back.axvline((RIGHT - LEFT) / (2901 - LEFT), color="#161616", linewidth=0.8)
back.axhline(1 - (1726 - 27) / (1757 - 27), xmax=(RIGHT - LEFT) / (2901 - LEFT), color="#161616", linewidth=0.8)
back.set_xlim(0, 1)
back.set_ylim(0, 1)

# ---- price pane ----
ax = pane(27, 828, (PRICE_BOTTOM, PRICE_TOP))
ax.set_yticks(price_ticks)
ax.set_yticklabels([f"{t:.4f}" for t in price_ticks])

ax.axvline(-13.9, color=UP, linewidth=1.7, zorder=2)
ax.axhline(2.7144, color=DOWN, linewidth=0.8, linestyle=(0, (1, 1.6)), zorder=2)

ax.add_patch(Rectangle((244.4, 2.845), 310.5, 0.072, facecolor="#404040", edgecolor="#6e2c2c", linewidth=2.2, zorder=1.5))

start_a = 103
start_b = 401 - len(open_b) + 1
draw_candles(ax, start_a, open_a, high_a, low_a, close_a)
draw_candles(ax, start_b, open_b, high_b, low_b, close_b)

# white inset card sits over the grey 1.618 dotted level only
for label, level, color in outer_levels:
    z = 4.5 if label == "1.618" else 6
    ax.plot([217.5, 598], [level, level], color=color, linewidth=1.45, dashes=(1, 2.3), zorder=z)
    ax.annotate(label, (598, level), xytext=(3.5, 1.5), textcoords="offset points", va="bottom",
                color=color, fontsize=TEXT_SIZE, alpha=0.85)
ax.add_patch(Rectangle((262.4, 3.908), 155.2, 1.565, facecolor="white", edgecolor="none", zorder=5))
for label, level, color in inner_levels:
    ax.plot([384.9, 496.8], [level, level], color=color, linewidth=1.0, zorder=6)
    ax.annotate(label, (496.8, level), xytext=(3.5, 1.5), textcoords="offset points", va="bottom",
                color=color, fontsize=TEXT_SIZE, alpha=0.85, zorder=6)

ax.plot([296, BAR_RIGHT], [3.4525, 3.4525], color=BLUE, linewidth=2.1, zorder=6)
ax.plot([227.5, BAR_RIGHT], [2.9783, 2.9783], color=BLUE, linewidth=1.9, zorder=6)
ax.plot([227.5, 227.5], [2.57, 2.9783], color=UP, linewidth=0.7, zorder=3)

ax.plot([227.6, 488.9], [3.64, 2.89], color=LIME, linewidth=3.6, solid_capstyle="butt", zorder=7)
ax.plot([212.5, 482.7], [1.77, 2.545], color=LIME, linewidth=3.6, solid_capstyle="butt", zorder=7)

ax.plot([401.8, 438.3], [2.718, 2.192], color="white", linewidth=1.5, zorder=8)
ax.plot([438.3, 476.5], [2.192, 3.553], color="white", linewidth=1.5, zorder=8)
for tail, tip in [((426.1, 2.39), (461.9, 3.491)), ((438.3, 2.192), (476.5, 3.553))]:
    ax.annotate("", xy=tip, xytext=tail, zorder=8,
                arrowprops=dict(arrowstyle="->,head_length=0.55,head_width=0.4", color="white", linewidth=1.5, shrinkA=0, shrinkB=0, mutation_scale=20))

# ---- RSI pane ----
ax_rsi = pane(826, 1268, (RSI_BOTTOM, RSI_TOP))
ax_rsi.set_yticks(rsi_ticks)
ax_rsi.set_yticklabels([f"{t:.2f}" for t in rsi_ticks])
ax_rsi.axhspan(30, 70, color="#7e57c2", alpha=0.1, linewidth=0, zorder=1)
for level, shade in ((70, "#8a8c94"), (50, "#5c5e66"), (30, "#8a8c94")):
    ax_rsi.axhline(level, color=shade, linewidth=0.85, dashes=(5, 4), zorder=2)
ax_rsi.plot(np.arange(len(rsi)), rsi, color="#7e57c2", linewidth=1.0, zorder=3)
ax_rsi.plot([240.8, 312.5], [21.3, 69.6], color=LIME, linewidth=3.3, zorder=4)
ax_rsi.plot([361, 419.7], [35.1, 67.3], color=LIME, linewidth=0.8, alpha=0.85, zorder=4)

# ---- phx pane ----
ax_phx = pane(1270, 1726, (PHX_BOTTOM, PHX_TOP))
ax_phx.set_yticks(phx_ticks)
ax_phx.set_yticklabels([f"{t:.4f}".replace("-", "\u2212") for t in phx_ticks])
for level, color in ((80, "#66bb6a"), (70, "#ffa726"), (50, "#c8c8c8"), (20, "#ff5252")):
    ax_phx.axhline(level, color=color, linewidth=0.95, dashes=(4, 4), zorder=6)
ax_phx.plot(fast_bar, fast_val, color="#4caf50", linewidth=1.35, zorder=2)
ax_phx.plot(slow_bar, slow_val, color="#2196f3", linewidth=1.55, zorder=3)
ax_phx.plot(mid_bar, mid_val, color="#ff5252", linewidth=1.55, zorder=4)
ax_phx.fill_between(area_bar, 50, area_val, color="#ff9800", alpha=0.3, linewidth=0, zorder=5)
ax_phx.plot(area_bar, area_val, color="#ff9800", alpha=0.22, linewidth=0.8, zorder=5)

ax_phx.set_xticks([(d - FIRST_BAR_DAY) * 6 for d in time_days])
ax_phx.set_xticklabels(time_labels)
ax_phx.tick_params(axis="x", labelbottom=True, pad=6.5, labelsize=AXIS_SIZE, labelcolor=LABEL)
for tick in ax_phx.get_xticklabels():
    if tick.get_text() in month_labels:
        tick.set_fontweight("bold")

# inset card content (schematic in its own axes, no background)
card = fig.add_axes([1409 / W, 1 - 294.6 / H, 451 / W, 253 / H], zorder=5)
card.set_axis_off()
card.patch.set_alpha(0)
card.set_xlim(508, 1392)
card.set_ylim(660, 93)
for x0, yy in ((760, 404), (700, 435), (660, 559), (819, 580)):
    card.plot([x0, 1224], [yy, yy], color="#c9d6ee", linewidth=2.6, solid_capstyle="butt")
    card.plot([x0, 1224], [yy, yy], color="#1e4a9a", linewidth=1.0, solid_capstyle="butt")
card.plot(wyck_x, wyck_y, color="black", linewidth=1.05)
card.text(946, 185, "Wyckoff Accumulation", ha="center", va="center", fontsize=11, fontweight="bold", color="black")
for s, x, y in (("PS", 604, 420), ("AR", 698, 415), ("ST", 712, 546), ("SC", 663, 583), ("SPRING", 1061, 625)):
    card.text(x, y, s, ha="center", va="center", fontsize=7.5, fontweight="bold", color="#111111")
card.text(1226, 392, "Resistance", va="center", fontsize=7.5, fontweight="bold", color="#4a6fd8")
card.text(1231, 584, "Support", va="center", fontsize=7.5, fontweight="bold", color="#4a6fd8")

# pattern labels over the price candles
for s, x, y, size in (("PS", 1197, 222, 14), ("SC", 1318, 656, 14), ("ST", 1377, 640, 14), ("AR", 1337, 463, 14.5), ("SPRING", 1920, 554, 14)):
    ftext(x, y, s, ha="center", color="#12d912", fontsize=size, style="italic", zorder=10)

# header, pane legends, price-scale badges and footer
ftext(10, 15, "ssari published on TradingView.com, Mar 22, 2022 06:13 UTC+11", color="#222222", fontsize=TEXT_SIZE)
ftext(18, 42, "GLMR / TetherUS, 4h, BINANCE", color=LABEL, fontsize=TEXT_SIZE)
for x, s, color in ((197, "O", LABEL), (205, "2.7663", DOWN), (248, "H", LABEL), (255, "2.8213", DOWN), (298, "L", LABEL), (304, "2.7092", DOWN),
                    (346, "C", LABEL), (353.5, "2.7144", DOWN), (395, "\u22120.0532 (\u22121.92%)", DOWN)):
    ftext(x, 42, s, color=color, fontsize=TEXT_SIZE)
ftext(18, 843, "RSI (14, close)", color=LABEL, fontsize=TEXT_SIZE)
ftext(97, 843, "55.53", color="#7e57c2", fontsize=TEXT_SIZE)
ftext(18, 1283, "phx (9, 6, 3, 32, 0, 14, 3, 3, 3, 14, 14)", color=LABEL, fontsize=TEXT_SIZE)
for x, s, color in ((227, "47.4081", "#4caf50"), (275, "54.4433", "#ff5252"), (323, "64.0084", "#2196f3"), (370, "43.9688", "#ff9800"),
                    (420, "n/a", LABEL), (441, "n/a", LABEL), (462, "n/a", LABEL)):
    ftext(x, 1283, s, color=color, fontsize=TEXT_SIZE)

overlay = fig.add_axes([0, 0, 1, 1], zorder=20)
overlay.set_axis_off()
overlay.patch.set_alpha(0)
overlay.set_xlim(0, W)
overlay.set_ylim(H, 0)
for top, bottom, color in ((358, 378.6, BLUE), (435, 455, BLUE), (478, 515, DOWN)):
    overlay.add_patch(Rectangle((2825, top), 58, bottom - top, facecolor=color, edgecolor="none"))
overlay.text(2837, 368.5, "3.4525", color="white", fontsize=AXIS_SIZE, va="center")
overlay.text(2837, 445, "2.9783", color="white", fontsize=AXIS_SIZE, va="center")
overlay.text(2837, 489, "2.7144", color="white", fontsize=AXIS_SIZE, va="center")
overlay.text(2837, 505, "46:41", color="#f7c9c8", fontsize=AXIS_SIZE, va="center")
overlay.add_patch(FancyBboxPatch((2846, 35), 35, 17, boxstyle="round,pad=0,rounding_size=3", facecolor=BG, edgecolor="#4a4c55", linewidth=0.9))
overlay.text(2863.5, 43.5, "USDT", color=LABEL, fontsize=TEXT_SIZE, ha="center", va="center")

# TradingView footer mark
overlay.add_patch(Rectangle((11, 1771), 8, 4, facecolor="#131722", edgecolor="none"))
overlay.add_patch(Rectangle((15, 1771), 4, 9, facecolor="#131722", edgecolor="none"))
overlay.add_patch(Polygon([[24, 1771], [29, 1771], [25.5, 1780], [20.5, 1780]], facecolor="#131722", edgecolor="none"))
overlay.text(33, 1775.5, "TradingView", color="#131722", fontsize=TEXT_SIZE, va="center")

fig.savefig("out.png", dpi=100, facecolor="white")
